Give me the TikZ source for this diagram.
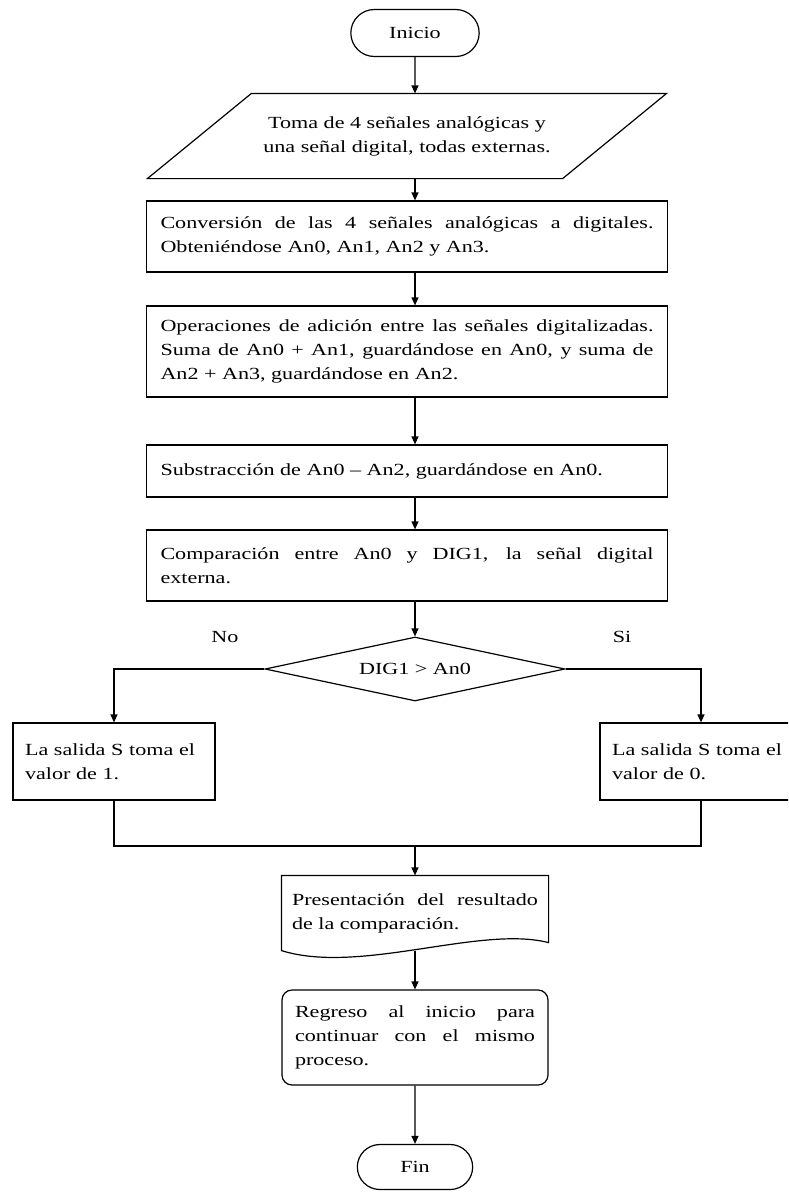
\documentclass[tikz,border=0pt]{standalone}
\usepackage{fontspec}
\setmainfont{Liberation Serif}[FakeStretch=1.3]
\usetikzlibrary{shapes.geometric, shapes.misc, arrows.meta}

\begin{document}
\begin{tikzpicture}[
    x=1pt, y=-1pt, line width=1.2pt,
    every node/.style={font=\fontsize{17}{24}\selectfont},
    terminal/.style={draw, rounded rectangle, minimum width=135pt, minimum height=47pt},
    entrada/.style={minimum width=414pt, minimum height=84pt, align=center, inner sep=2pt},
    proceso/.style={draw, text width=493pt, inner xsep=14pt, align=justify},
    decision/.style={draw, diamond, aspect=4.7, minimum width=300pt, minimum height=64pt, inner sep=0pt},
    salida/.style={draw, text width=178pt, inner xsep=12pt, minimum height=77pt, align=left},
    documento/.style={text width=246pt, inner xsep=10pt, minimum height=74pt, align=justify},
    regreso/.style={draw, rounded corners=10pt, text width=240pt, inner xsep=13pt, minimum height=95pt, align=justify},
    flecha/.style={->, >={Triangle[length=8pt, width=7pt]}},
    linea/.style={-}
]
\useasboundingbox (0,0) rectangle (788,1199);
\clip (0,0) rectangle (788,1199);

% columna principal
\node[terminal] (inicio) at (415,33) {Inicio};
\node[entrada] (toma) at (407,136) {Toma de 4 señales analógicas y\\una señal digital, todas externas.};
\draw[linea] ([xshift=52pt]toma.north west) -- ([xshift=52pt]toma.north east)
    -- ([xshift=-52pt]toma.south east) -- ([xshift=-52pt]toma.south west) -- cycle;
\node[proceso, minimum height=71pt] (conv) at (407,236.5) {Conversión de las 4 señales analógicas a digitales.\linebreak Obteniéndose An0, An1, An2 y An3.};
\node[proceso, minimum height=91pt] (oper) at (407,351.5) {Operaciones de adición entre las señales digitalizadas.\linebreak Suma de An0 + An1, guardándose en An0, y suma de\linebreak An2 + An3, guardándose en An2.};
\node[proceso, minimum height=52pt] (subs) at (407,471) {Substracción de An0 – An2, guardándose en An0.};
\node[proceso, minimum height=71pt] (comp) at (407,565.5) {Comparación entre An0 y DIG1, la señal digital\linebreak externa.};
\node[decision] (dec) at (415,669) {DIG1 > An0};

% ramas
\node (no) at (225,637) {No};
\node (si) at (622,637) {Si};
\node[salida] (sal1) at (114,761.5) {La salida S toma el\\valor de 1.};
\node[salida] (sal0) at (701,761.5) {La salida S toma el\\valor de 0.};
\coordinate (union) at (415,846);

% final
\node[documento] (present) at (415,913) {Presentación del resultado\linebreak de la comparación.};
\draw[linea] (present.north west) -- (present.north east) -- ([yshift=8pt]present.south east)
    .. controls (480,925) and (360,975) .. (present.south west) -- cycle;
\node[regreso] (regreso) at (415,1037.5) {Regreso al inicio para\linebreak continuar con el mismo\linebreak proceso.};
\node[terminal, minimum width=122pt, minimum height=45pt] (fin) at (415,1167) {Fin};

% conexiones
\draw[flecha] (inicio) -- (toma.north -| inicio);
\draw[flecha] (toma.south -| inicio) -- (conv.north -| inicio);
\draw[flecha] (conv.south -| inicio) -- (oper.north -| inicio);
\draw[flecha] (oper.south -| inicio) -- (subs.north -| inicio);
\draw[flecha] (subs.south -| inicio) -- (comp.north -| inicio);
\draw[flecha] (comp.south -| inicio) -- (dec.north);
\draw[flecha] (dec.west) -| (sal1.north);
\draw[flecha] (dec.east) -| (sal0.north);
\draw[linea] (sal1.south) |- (union) -| (sal0.south);
\draw[flecha] (union) -- (present.north);
\draw[flecha] (present.south) -- (regreso.north);
\draw[flecha] (regreso) -- (fin);
\end{tikzpicture}
\end{document}
